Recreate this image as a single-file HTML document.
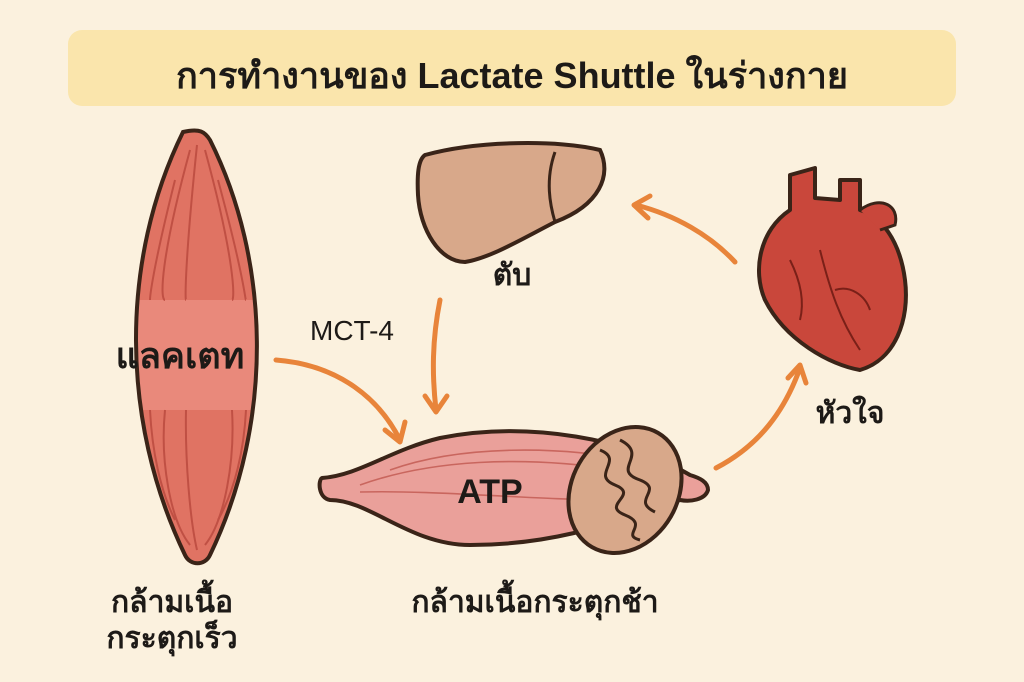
<!DOCTYPE html>
<html><head><meta charset="utf-8"><style>
html,body{margin:0;padding:0;background:#fbf1de;}
svg{display:block}
text{font-family:"Liberation Sans","DejaVu Sans","Noto Sans CJK SC",sans-serif;fill:#1d1a17}
</style></head><body>
<svg width="1024" height="682" viewBox="0 0 1024 682" xmlns="http://www.w3.org/2000/svg">
<defs>
<clipPath id="mc"><path d="M183,132 C200,128 205,132 210,140 C270,260 275,420 210,555 C205,566 190,566 185,555 C120,420 120,260 183,132 Z"/></clipPath>
</defs>
<rect width="1024" height="682" fill="#fbf1de"/>
<rect x="68" y="30" width="888" height="76" rx="14" fill="#fae5ac"/>
<text x="512" y="88" font-size="36" font-weight="bold" text-anchor="middle">การทำงานของ Lactate Shuttle ในร่างกาย</text>

<!-- fast muscle -->
<path d="M183,132 C200,128 205,132 210,140 C270,260 275,420 210,555 C205,566 190,566 185,555 C120,420 120,260 183,132 Z" fill="#e07363"/>
<rect x="120" y="300" width="160" height="110" fill="#e9897b" clip-path="url(#mc)"/>
<g stroke="#b8483c" stroke-width="2" fill="none" opacity="0.8" clip-path="url(#mc)">
<path d="M190,150 C160,260 160,300 165,300"/><path d="M205,150 C235,260 235,300 232,300"/>
<path d="M197,145 C185,260 185,300 186,300"/><path d="M175,180 C150,280 150,300 150,300"/><path d="M218,180 C245,280 245,300 246,300"/>
<path d="M165,410 C160,460 170,520 190,545"/><path d="M232,410 C235,460 225,520 205,545"/>
<path d="M186,410 C185,460 190,520 197,550"/><path d="M150,410 C152,450 160,490 175,520"/><path d="M246,410 C244,450 235,490 218,520"/>
</g>
<path d="M183,132 C200,128 205,132 210,140 C270,260 275,420 210,555 C205,566 190,566 185,555 C120,420 120,260 183,132 Z" fill="none" stroke="#3a2418" stroke-width="4"/>
<text x="180" y="368" font-size="36" font-weight="bold" text-anchor="middle">แลคเตท</text>
<text x="172" y="612" font-size="30" font-weight="bold" text-anchor="middle">กล้ามเนื้อ</text>
<text x="172" y="648" font-size="30" font-weight="bold" text-anchor="middle">กระตุกเร็ว</text>

<!-- liver -->
<path d="M425,155 C480,140 560,140 600,150 C612,175 600,205 555,222 C520,240 490,258 465,262 C440,262 420,230 418,195 C417,175 418,160 425,155 Z" fill="#d8a88a" stroke="#3a2418" stroke-width="4"/>
<path d="M555,152 C545,180 550,205 555,222" stroke="#3a2418" stroke-width="3" fill="none"/>
<text x="512" y="285" font-size="30" font-weight="bold" text-anchor="middle">ตับ</text>

<!-- heart -->
<path d="M790,175 L790,210 C760,230 752,270 765,300 C785,340 830,365 860,370 C895,360 910,320 905,280 C900,240 880,215 860,210 L860,180 L840,180 L840,200 L815,198 L815,168 Z" fill="#c9473b" stroke="#3a2418" stroke-width="4" stroke-linejoin="round"/>
<path d="M860,210 C880,195 900,205 895,225 L880,230" fill="#c9473b" stroke="#3a2418" stroke-width="3"/>
<g stroke="#7a2018" stroke-width="2" fill="none"><path d="M820,250 C830,290 840,320 860,350"/><path d="M835,290 C850,285 865,295 870,310"/><path d="M790,260 C800,280 805,300 800,320"/></g>
<text x="850" y="423" font-size="30" font-weight="bold" text-anchor="middle">หัวใจ</text>

<!-- slow muscle -->
<path d="M322,478 C360,475 390,450 440,438 C530,420 630,440 690,475 C700,478 708,482 708,490 C705,500 690,502 680,500 C620,520 560,545 470,545 C410,545 370,500 330,500 C318,498 318,480 322,478 Z" fill="#eaa09a" stroke="#3a2418" stroke-width="4" stroke-linejoin="round"/>
<g stroke="#c9665e" stroke-width="1.6" fill="none"><path d="M360,485 C430,460 520,455 620,470"/><path d="M360,492 C440,490 530,500 620,500"/><path d="M390,470 C460,445 560,445 640,462"/></g>
<ellipse cx="625" cy="490" rx="53" ry="66" transform="rotate(30 625 490)" fill="#d8a88a" stroke="#3a2418" stroke-width="4"/>
<path d="M600,450 C625,460 590,475 615,485 C640,495 600,505 625,515 C650,525 620,535 640,540 M620,440 C650,455 610,470 640,480 C665,490 630,500 655,512" stroke="#3a2418" stroke-width="3" fill="none"/>
<text x="490" y="503" font-size="34" font-weight="bold" text-anchor="middle">ATP</text>
<text x="535" y="612" font-size="30" font-weight="bold" text-anchor="middle">กล้ามเนื้อกระตุกช้า</text>

<text x="310" y="340" font-size="28">MCT-4</text>

<!-- arrows -->
<g stroke="#e8843a" stroke-width="5" fill="none" stroke-linecap="round">
<path d="M276,360 C340,365 380,400 400,440"/>
<path d="M385,430 L400,442 L405,422" stroke-linejoin="round"/>
<path d="M440,300 C432,340 432,375 436,410"/>
<path d="M425,396 L436,412 L447,396" stroke-linejoin="round"/>
<path d="M716,468 C760,445 785,410 800,368"/>
<path d="M788,378 L800,365 L806,383" stroke-linejoin="round"/>
<path d="M735,262 C710,235 675,215 636,205"/>
<path d="M650,196 L634,205 L648,218" stroke-linejoin="round"/>
</g>
</svg>
</body></html>
